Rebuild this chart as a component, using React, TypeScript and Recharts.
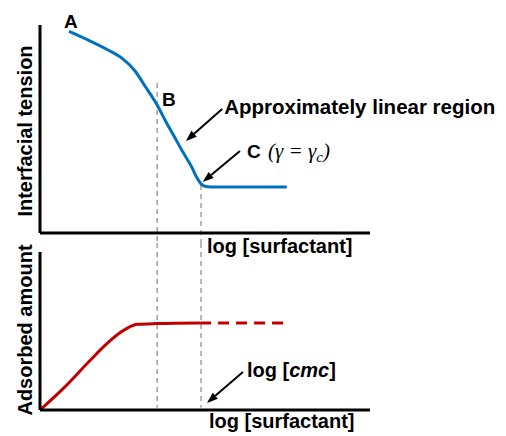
import React from "react";
import {
  LineChart,
  Line,
  XAxis,
  YAxis,
  ReferenceLine,
  ReferenceDot,
} from "recharts";

// log [surfactant] positions (arbitrary units) and interfacial tension
const logTop = [0.88, 1.45, 2.06, 2.48, 2.88, 3.18, 3.55, 3.82, 4.06, 4.33, 4.61, 4.76, 4.88, 5.03, 5.3, 7.48];
const tension = [96.9, 92.8, 88.0, 84.1, 77.9, 70.7, 61.5, 53.4, 46.6, 38.9, 31.3, 26.4, 23.6, 22.4, 22.1, 22.1];

// adsorbed amount: measured part, then the dashed plateau beyond the cmc
const logBottom = [0, 0.7, 1.5, 2.0, 2.35, 2.65, 2.95, 3.54, 4.85];
const adsorbed = [0, 13.5, 31, 41.5, 47.8, 51.8, 54.2, 54.7, 55.1];
const logDashed = [4.85, 7.42];
const adsorbedDashed = [55.1, 55.1];

// markers
const logB = 3.55;
const logCmc = 4.88;

const BLUE = "#0070C0";
const RED = "#C00000";
const GRID = "#a0a0a0";
const FONT = "'Liberation Sans', Arial, sans-serif";

const topData = logTop.map((x, i) => ({ x, tension: tension[i] }));
const bottomData = [
  ...logBottom.map((x, i) => ({ x, solid: adsorbed[i], dashed: null as number | null })),
  ...logDashed.slice(1).map((x, i) => ({ x, solid: null as number | null, dashed: adsorbedDashed[i + 1] })),
];
// join the dashed piece to the end of the solid one
bottomData[logBottom.length - 1].dashed = adsorbedDashed[0];

const Arrow = (p: any) => {
  const { x1, y1, x2, y2 } = p;
  const a = Math.atan2(y2 - y1, x2 - x1);
  const len = 11;
  const w = 4;
  const bx = x2 - len * Math.cos(a);
  const by = y2 - len * Math.sin(a);
  const nx = -Math.sin(a) * w;
  const ny = Math.cos(a) * w;
  return (
    <g>
      <line x1={x1} y1={y1} x2={bx} y2={by} stroke="#000" strokeWidth={2} />
      <polygon points={`${x2},${y2} ${bx + nx},${by + ny} ${bx - nx},${by - ny}`} fill="#000" />
    </g>
  );
};

const note = (children: React.ReactNode, size = 20, extra: any = {}) => (props: any) => {
  const { x, y } = props.viewBox;
  return (
    <text x={x} y={y} fontFamily={FONT} fontWeight="bold" fontSize={size} fill="#000" {...extra}>
      {children}
    </text>
  );
};

const axisTitle = (text: string, dy: number) => (props: any) => {
  const { x, y, width, height } = props.viewBox;
  const cx = x + width - 8;
  const cy = y + height / 2 + dy;
  return (
    <text
      x={cx}
      y={cy}
      transform={`rotate(-90, ${cx}, ${cy})`}
      textAnchor="middle"
      fontFamily={FONT}
      fontWeight="bold"
      fontSize={20}
      fill="#000"
    >
      {text}
    </text>
  );
};

const axisLine = { stroke: "#000", strokeWidth: 3 };

export default function App() {
  return (
    <div style={{ position: "absolute", left: 0, top: 0, width: 506, height: 436, background: "#fff" }}>
      <div style={{ position: "absolute", left: 0, top: 0 }}>
        <LineChart width={506} height={262} data={topData} margin={{ top: 25, right: 136, left: 39, bottom: 28 }}>
          <XAxis dataKey="x" type="number" domain={[0, 10]} allowDataOverflow height={1} tick={false} tickLine={false} axisLine={axisLine} />
          <YAxis type="number" domain={[0, 100]} allowDataOverflow width={1} tick={false} tickLine={false} axisLine={axisLine} label={axisTitle("Interfacial tension", 2)} />
          <ReferenceLine segment={[{ x: logB, y: 72.1 }, { x: logB, y: -4.8 }]} ifOverflow="visible" stroke={GRID} strokeWidth={1.5} strokeDasharray="5 4" />
          <ReferenceLine segment={[{ x: logCmc, y: 23.1 }, { x: logCmc, y: -4.8 }]} ifOverflow="visible" stroke={GRID} strokeWidth={1.5} strokeDasharray="5 4" />
          <Line type="monotone" dataKey="tension" stroke={BLUE} strokeWidth={3} dot={false} isAnimationActive={false} />
          <ReferenceLine segment={[{ x: 5.52, y: 59.6 }, { x: 4.42, y: 44.2 }]} ifOverflow="visible" shape={Arrow} />
          <ReferenceLine segment={[{ x: 6.06, y: 39.4 }, { x: 4.93, y: 24.5 }]} ifOverflow="visible" shape={Arrow} />
          <ReferenceDot x={0.73} y={98.6} r={0} ifOverflow="visible" label={note("A", 19)} />
          <ReferenceDot x={3.7} y={61.1} r={0} ifOverflow="visible" label={note("B", 19)} />
          <ReferenceDot x={5.58} y={57.2} r={0} ifOverflow="visible" label={note("Approximately linear region", 20.5)} />
          <ReferenceDot x={6.27} y={36.1} r={0} ifOverflow="visible" label={note("C", 19)} />
          <ReferenceDot
            x={6.91}
            y={36.1}
            r={0}
            ifOverflow="visible"
            label={note(
              <>
                (γ = γ<tspan dy={4} fontSize={15}>c</tspan>
                <tspan dy={-4}>)</tspan>
              </>,
              21,
              { fontFamily: "'Liberation Serif', 'Times New Roman', serif", fontStyle: "italic", fontWeight: "normal" }
            )}
          />
          <ReferenceDot x={5.06} y={-9.6} r={0} ifOverflow="visible" label={note("log [surfactant]", 20)} />
        </LineChart>
      </div>
      <div style={{ position: "absolute", left: 0, top: 243 }}>
        <LineChart width={506} height={193} data={bottomData} margin={{ top: 9, right: 136, left: 39, bottom: 25 }}>
          <XAxis dataKey="x" type="number" domain={[0, 10]} allowDataOverflow height={1} tick={false} tickLine={false} axisLine={axisLine} />
          <YAxis type="number" domain={[0, 100]} allowDataOverflow width={1} tick={false} tickLine={false} axisLine={axisLine} label={axisTitle("Adsorbed amount", -1)} />
          <ReferenceLine segment={[{ x: logB, y: 105.7 }, { x: logB, y: 1.5 }]} ifOverflow="visible" stroke={GRID} strokeWidth={1.5} strokeDasharray="5 4" />
          <ReferenceLine segment={[{ x: logCmc, y: 105.7 }, { x: logCmc, y: 1.5 }]} ifOverflow="visible" stroke={GRID} strokeWidth={1.5} strokeDasharray="5 4" />
          <Line type="monotone" dataKey="solid" stroke={RED} strokeWidth={3} dot={false} isAnimationActive={false} />
          <Line type="linear" dataKey="dashed" stroke={RED} strokeWidth={3} strokeDasharray="11 7" dot={false} isAnimationActive={false} />
          <ReferenceLine segment={[{ x: 6.15, y: 24.1 }, { x: 5.06, y: 4.4 }]} ifOverflow="visible" shape={Arrow} />
          <ReferenceDot
            x={6.27}
            y={20.9}
            r={0}
            ifOverflow="visible"
            label={note(
              <>
                log [<tspan fontStyle="italic">cmc</tspan>]
              </>,
              20
            )}
          />
          <ReferenceDot x={5.12} y={-11.4} r={0} ifOverflow="visible" label={note("log [surfactant]", 20)} />
        </LineChart>
      </div>
    </div>
  );
}
